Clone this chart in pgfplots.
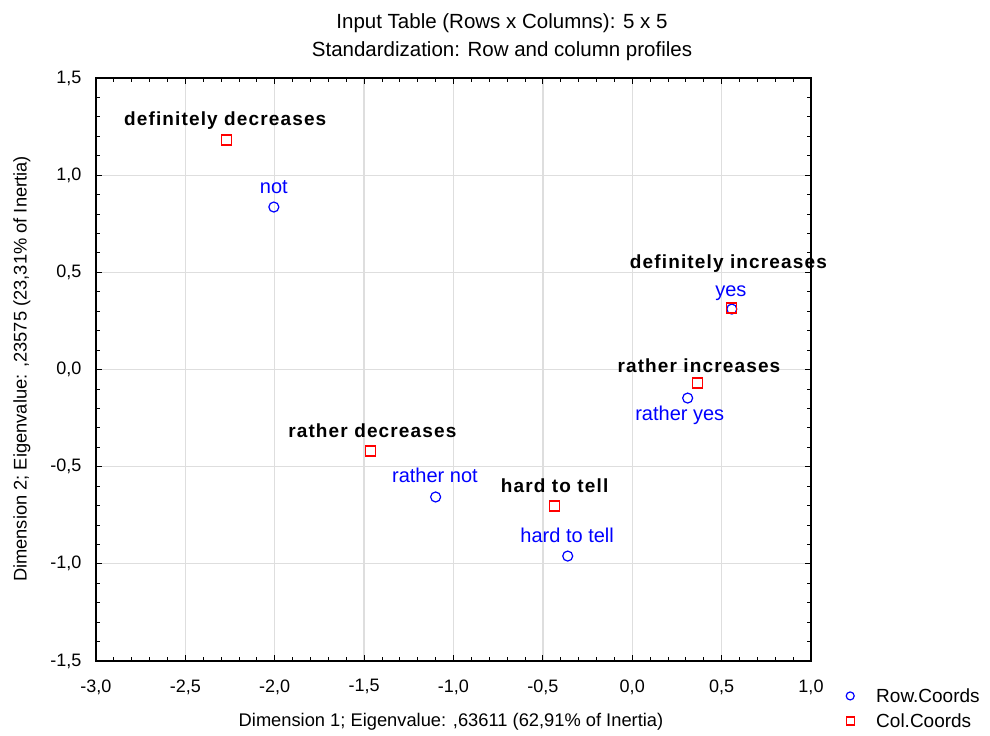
\documentclass[border=0pt]{standalone}
\usepackage{fontspec}
\setmainfont{Liberation Sans}
\newfontfamily\boldlab{Liberation Sans}[LetterSpace=6]
\usepackage{pgfplots}
\pgfplotsset{compat=1.18}
\definecolor{gridgray}{RGB}{222,222,222}
\begin{document}
\begin{tikzpicture}
\begin{axis}[
  at={(0,0)}, anchor=south west,
  scale only axis, width=715bp, height=583bp,
  xmin=-3, xmax=1, ymin=-1.5, ymax=1.5,
  xtick={-3,-2.5,...,1}, ytick={-1.5,-1,...,1.5},
  minor tick num=4,
  tick align=inside,
  major tick length=6bp, minor tick length=4bp,
  tick style={black, line width=0.8bp},
  axis line style={black, line width=1.2bp},
  grid=major,
  major grid style={gridgray, line width=1.3bp},
  /pgf/number format/assume math mode=true,
  /pgf/number format/.cd, use comma, fixed, fixed zerofill, precision=1, 1000 sep={},
  /pgfplots/.cd,
  ticklabel style={font=\fontsize{18bp}{21bp}\selectfont},
  xticklabel style={yshift=-15bp},
  yticklabel style={xshift=-11bp},
  legend style={at={(axis description cs:1.0434,-0.045)}, anchor=north west,
    draw=none, fill=none, font=\fontsize{19bp}{22bp}\selectfont,
    row sep=6bp, inner sep=0pt,
    nodes={inner sep=0pt, text height=14bp, text depth=4bp}},
  legend cell align=left,
  legend image code/.code={\path[draw=none, fill=none] (0bp,0bp) rectangle (34bp,10bp);
     \draw[#1, mark size=4bp] plot coordinates {(8bp,1.5bp)};},
  clip=false,
]
\addplot[only marks, mark=o, mark size=5bp, blue, line width=1.2bp]
  coordinates {(-2.005,0.836) (0.557,0.311) (0.31,-0.147) (-1.10,-0.656) (-0.361,-0.960)};
\addlegendentry{Row.Coords}
\addplot[only marks, mark=square, mark size=5bp, red, line width=1.2bp]
  coordinates {(-2.27,1.181) (0.557,0.316) (0.367,-0.069) (-1.465,-0.419) (-0.434,-0.702)};
\addlegendentry{Col.Coords}
% point labels
\begin{scope}[every node/.style={anchor=base, inner sep=0pt}]
\node[font=\boldlab\bfseries\fontsize{19bp}{22bp}\selectfont] at (axis cs:-2.277,1.253) {definitely decreases};
\node[font=\boldlab\bfseries\fontsize{19bp}{22bp}\selectfont] at (axis cs:0.538,0.522) {definitely increases};
\node[font=\boldlab\bfseries\fontsize{19bp}{22bp}\selectfont] at (axis cs:0.373,-0.013) {rather increases};
\node[font=\boldlab\bfseries\fontsize{19bp}{22bp}\selectfont] at (axis cs:-1.454,-0.352) {rather decreases};
\node[font=\boldlab\bfseries\fontsize{19bp}{22bp}\selectfont] at (axis cs:-0.434,-0.635) {hard to tell};
\node[blue, font=\fontsize{20bp}{23bp}\selectfont] at (axis cs:-2.005,0.908) {not};
\node[blue, font=\fontsize{20bp}{23bp}\selectfont] at (axis cs:0.552,0.378) {yes};
\node[blue, font=\fontsize{20bp}{23bp}\selectfont] at (axis cs:0.266,-0.260) {rather yes};
\node[blue, font=\fontsize{20bp}{23bp}\selectfont] at (axis cs:-1.104,-0.584) {rather not};
\node[blue, font=\fontsize{20bp}{23bp}\selectfont] at (axis cs:-0.364,-0.888) {hard to tell};
\end{scope}
\end{axis}
\node[font=\fontsize{20.5bp}{23bp}\selectfont] at (406bp,638bp) {Input Table (Rows x Columns): 5 x 5};
\node[font=\fontsize{20.5bp}{23bp}\selectfont] at (406bp,610bp) {Standardization: Row and column profiles};
\node[font=\fontsize{18.3bp}{21bp}\selectfont] at (355bp,-61bp) {Dimension 1; Eigenvalue: ,63611 (62,91\% of Inertia)};
\node[font=\fontsize{18.3bp}{21bp}\selectfont, rotate=90] at (-74bp,292bp) {Dimension 2; Eigenvalue: ,23575 (23,31\% of Inertia)};
\pgfresetboundingbox
\useasboundingbox (-96bp,-75bp) rectangle (894bp,661bp);
\end{tikzpicture}
\end{document}
